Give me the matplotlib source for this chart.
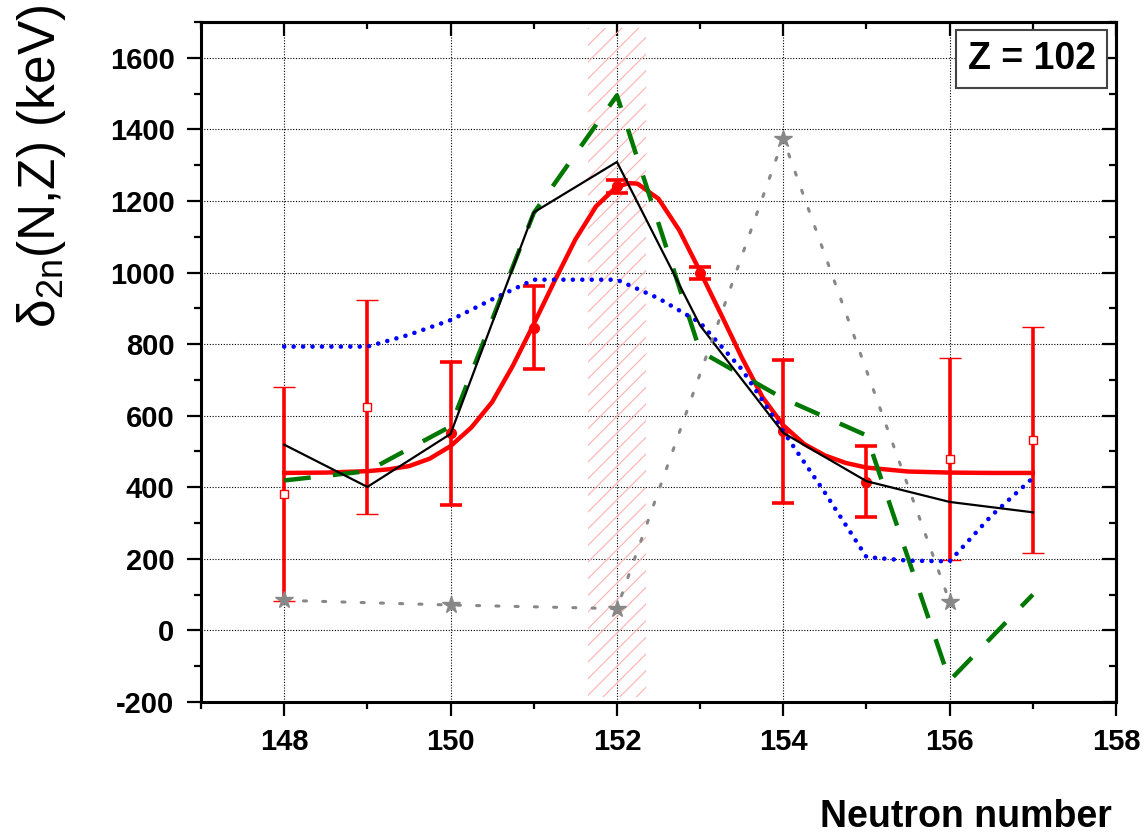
import matplotlib
matplotlib.use("Agg")
import matplotlib.pyplot as plt
from matplotlib.ticker import MultipleLocator

plt.rcParams['font.family'] = ['Liberation Sans', 'DejaVu Sans']
plt.rcParams['mathtext.fontset'] = 'custom'
plt.rcParams['mathtext.rm'] = 'Liberation Sans'
plt.rcParams['mathtext.it'] = 'Liberation Sans:italic'
plt.rcParams['hatch.linewidth'] = 0.8
plt.rcParams['axes.unicode_minus'] = False

# data
n_exp = [150, 151, 152, 153, 154, 155]
d_exp = [551, 846, 1241, 999, 556, 416]
e_exp = [200, 115, 18, 17, 200, 100]

n_sq = [148, 149, 156, 157]
d_sq = [381, 624, 479, 533]
e_sq = [300, 300, 282, 316]

n_fit = [148, 148.5, 149, 149.25, 149.5, 149.75, 150, 150.25, 150.5, 150.75, 151,
         151.25, 151.5, 151.75, 152, 152.15, 152.25, 152.5, 152.75, 153, 153.25,
         153.5, 153.75, 154, 154.25, 154.5, 154.75, 155, 155.5, 156, 156.5, 157]
d_fit = [440, 441, 445, 450, 459, 480, 515, 567, 638, 740, 856,
         976, 1092, 1185, 1240, 1250, 1248, 1206, 1118, 1003, 884,
         763, 652, 573, 521, 489, 468, 455, 444, 441, 440, 440]

n_all = [148, 149, 150, 151, 152, 153, 154, 155, 156, 157]
d_black = [519, 401, 549, 1168, 1309, 852, 552, 417, 359, 330]
d_green = [419, 445, 570, 1166, 1495, 780, 648, 545, -140, 100]

n_blue = [148, 149, 149.5, 150, 150.5, 151, 152, 152.5, 153, 153.5, 154, 154.5,
          155, 155.5, 156, 156.5, 157]
d_blue = [793, 793, 826, 867, 925, 980, 980, 928, 860, 730, 556, 385,
          205, 195, 193, 320, 426]

n_star = [148, 150, 152, 154, 156]
d_star = [84, 71, 61, 1373, 80]

shell_lo, shell_hi = 151.65, 152.35

fig = plt.figure(figsize=(11.44, 8.34), dpi=100)
ax = fig.add_axes([201/1144, 1 - 702/834, 915/1144, 680/834])

ax.axvspan(shell_lo, shell_hi, ymin=0.007, ymax=0.991, facecolor='none',
           edgecolor='#ffb0b0', hatch='//', linewidth=0, zorder=1)

ax.plot(n_fit, d_fit, color='red', lw=3.2, solid_joinstyle='round', zorder=3)
ax.errorbar(n_exp, d_exp, yerr=e_exp, fmt='o', color='red', ms=7, elinewidth=2.6,
            capsize=8, capthick=2.6, zorder=4)
ax.errorbar(n_sq, d_sq, yerr=e_sq, fmt='s', color='red', mfc='white', mec='red',
            ms=6, mew=1, elinewidth=2.6, capsize=8, capthick=2.6, zorder=4)

ax.plot(n_all, d_green, color='#007700', lw=3.2, linestyle=(0, (6, 5)), zorder=5)
ax.plot(n_blue, d_blue, color='blue', lw=3.3, linestyle=(0, (0.01, 2.05)),
        dash_capstyle='round', zorder=5)
ax.plot(n_all, d_black, color='black', lw=1.6, zorder=6)
ax.plot(n_star, d_star, color='#888888', lw=2.2, linestyle=(0, (1.0, 5.3)),
        dash_capstyle='round', marker='*', ms=13, zorder=7)

ax.set_xlim(147, 158)
ax.set_ylim(-200, 1700)
ax.xaxis.set_major_locator(MultipleLocator(2))
ax.xaxis.set_minor_locator(MultipleLocator(1))
ax.yaxis.set_major_locator(MultipleLocator(200))
ax.yaxis.set_minor_locator(MultipleLocator(100))
ax.set_yticks(range(-200, 1601, 200))
ax.grid(True, which='major', color='black', lw=0.8, linestyle=(0, (1, 1.5)))
ax.set_axisbelow(True)

ax.tick_params(which='major', direction='out', length=10, width=1.6, pad=9,
               labelsize=21)
ax.tick_params(which='minor', direction='out', length=5, width=1.6)
for lab in ax.get_xticklabels() + ax.get_yticklabels():
    lab.set_fontweight('bold')
for sp in ax.spines.values():
    sp.set_linewidth(2.2)

top = ax.secondary_xaxis('top')
top.xaxis.set_major_locator(MultipleLocator(2))
top.xaxis.set_minor_locator(MultipleLocator(1))
top.tick_params(which='major', direction='in', length=10, width=1.6, labeltop=False)
top.tick_params(which='minor', direction='in', length=5, width=1.6)
right = ax.secondary_yaxis('right')
right.yaxis.set_major_locator(MultipleLocator(200))
right.yaxis.set_minor_locator(MultipleLocator(100))
right.tick_params(which='major', direction='in', length=10, width=1.6, labelright=False)
right.tick_params(which='minor', direction='in', length=5, width=1.6)
for s in (top, right):
    for sp in s.spines.values():
        sp.set_linewidth(2.2)

ax.text(0.9077, 0.9456, 'Z = 102', transform=ax.transAxes, ha='center', va='center',
        fontsize=27, fontweight='bold',
        bbox=dict(boxstyle='square,pad=0.3', facecolor='white', edgecolor='#444444', lw=1.5),
        zorder=10)

fig.text(42/1144, 1 - 5/834, r'δ$_{\mathrm{2n}}$(N,Z) (keV)', rotation=90,
         ha='center', va='top', fontsize=37)
fig.text(1112/1144, 7/834, 'Neutron number', ha='right', va='baseline',
         fontsize=27, fontweight='bold')

fig.savefig('out.png', dpi=100)
